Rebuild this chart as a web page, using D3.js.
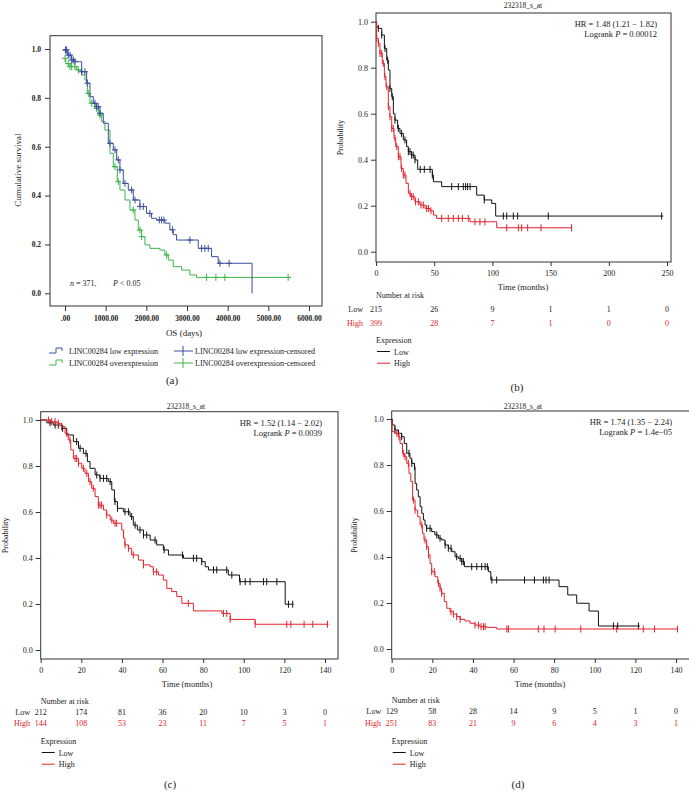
<!DOCTYPE html>
<html><head><meta charset="utf-8">
<script src="https://cdn.jsdelivr.net/npm/d3@7"></script>
<style>
body{margin:0;background:#fff}
svg{display:block}
text{font-family:"Liberation Serif","Times New Roman",serif}
</style>
</head><body><script>
// ---------------- DATA ----------------
// Panel (a): OS in days. Steps are [time, survival after drop]
const aLowSteps = [[0,0.996],[60,0.975],[164,0.955],[245,0.948],[410,0.907],[532,0.86],[614,0.805],[696,0.778],[778,0.764],[860,0.737],[942,0.696],[1065,0.614],[1188,0.587],[1270,0.546],[1351,0.505],[1433,0.45],[1556,0.423],[1679,0.382],[1843,0.355],[2006,0.327],[2129,0.307],[2252,0.30],[2457,0.287],[2580,0.26],[2662,0.24],[2744,0.218],[3276,0.184],[3604,0.15],[3768,0.123],[4600,0.0]];
const aLowEnd = 4600;
const aLowCensor = [10,20,41,82,123,164,205,245,410,491,549,737,778,819,860,1106,1229,1310,1351,1474,1638,1720,1843,1925,2088,2318,2375,2432,2645,3071,3358,3440,3522,3808,4038];
const aHighSteps = [[0,0.962],[20,0.94],[123,0.928],[287,0.914],[410,0.894],[491,0.873],[549,0.818],[614,0.778],[737,0.757],[819,0.73],[901,0.703],[983,0.668],[1106,0.573],[1188,0.518],[1286,0.457],[1351,0.423],[1474,0.382],[1597,0.341],[1720,0.30],[1802,0.259],[1884,0.232],[1966,0.198],[2088,0.184],[2334,0.177],[2457,0.157],[2539,0.136],[2662,0.109],[2867,0.095],[3071,0.075],[3235,0.065]];
const aHighEnd = 5487;
const aHighCensor = [0,82,123,164,245,328,573,655,778,860,1229,1310,1679,1843,1884,2498,3481,3710,3931,5487];
const aYTicks = [0,0.2,0.4,0.6,0.8,1.0];
const aXTicks = [0,1000,2000,3000,4000,5000,6000];
const aXTickLabels = [".00","1000.00","2000.00","3000.00","4000.00","5000.00","6000.00"];
const aLegend = ["LINC00284 low expression","LINC00284 overexpression","LINC00284 low expression-censored","LINC00284 overexpression-censored"];

// Panel (b): months
const bLowSteps = [[0,1.0],[0.5,0.978],[2,0.971],[4.9,0.942],[7.2,0.884],[9.2,0.833],[10.6,0.79],[12,0.71],[13.5,0.674],[14.9,0.60],[16.3,0.572],[18.6,0.536],[20.6,0.514],[23.5,0.486],[26.3,0.457],[27.8,0.435],[30.6,0.42],[33.5,0.399],[35.8,0.358],[48.4,0.333],[49.3,0.304],[56.4,0.283],[86.5,0.246],[93,0.225],[99.4,0.21],[102.8,0.155]];
const bLowEnd = 246.8;
const bLowCensor = [2,4.9,7.7,10,12,14,16.3,19.2,22,24.9,27.8,29.2,30.6,32,33.5,38,41.5,46.4,48.4,65,70.7,75,77,78.7,80.8,93,109.4,112.3,118,121.7,148,245.4];
const bHighSteps = [[0,1.0],[0.5,0.928],[2,0.906],[3.4,0.862],[5.4,0.819],[7.2,0.761],[8.6,0.717],[10.6,0.63],[12,0.587],[13.5,0.536],[15.5,0.493],[16.9,0.457],[19.2,0.413],[21.5,0.362],[23.5,0.333],[25.8,0.297],[27.8,0.254],[29.8,0.239],[33.5,0.217],[37.8,0.203],[42.1,0.188],[46.4,0.178],[49.3,0.159],[52.1,0.145],[80.8,0.13],[103.7,0.104]];
const bHighEnd = 168;
const bHighCensor = [0.6,2,3.4,4.9,6.3,7.7,9.2,10.6,12,13.5,14.9,16.3,17.8,19.2,20.6,22,23.5,24.9,29.2,30.6,32,34,36.4,38.7,40.7,43.5,45,47.2,56.4,62.1,66.4,70.7,74.2,79.3,85,89.3,93.6,112.3,122.3,125.1,130.3,141.8,168];
const bXTicks = [0,50,100,150,200,250];
const bRiskLow = [215,26,9,1,1,0];
const bRiskHigh = [399,28,7,1,0,0];
const bHR = "HR = 1.48 (1.21 \u2212 1.82)";
const bP = "0.00012";

// Panel (c)
const cLowSteps = [[0,1.0],[3,0.988],[6.2,0.978],[10.3,0.964],[12.8,0.935],[16.1,0.906],[18.6,0.877],[21,0.855],[23,0.819],[24.3,0.79],[26.8,0.761],[29.2,0.746],[33.3,0.732],[35,0.696],[36.3,0.645],[37.8,0.616],[40.7,0.601],[44,0.58],[45.6,0.543],[47.6,0.522],[50.6,0.5],[53.9,0.478],[57.1,0.457],[60.4,0.435],[62.9,0.413],[70.3,0.399],[79.3,0.384],[81,0.362],[82.6,0.348],[92.4,0.326],[97.9,0.297],[120.4,0.199]];
const cLowEnd = 124.5;
const cLowCensor = [4.6,7.1,8.7,10.8,17.7,19.4,22.3,27.6,29.2,30.9,32.5,34.2,36.6,37.8,41.5,43.2,44.8,46.5,48.9,50.6,52.2,56.3,60.8,69.8,75.2,76.8,79.3,85.1,86.7,91.6,94.1,98.2,100.7,103.1,109.7,111.3,116.3,122,124.1];
const cHighSteps = [[0,1.0],[4.6,0.993],[7.9,0.986],[10.3,0.971],[12,0.942],[13.6,0.913],[14.8,0.87],[16.1,0.833],[18.6,0.812],[20.2,0.79],[21.8,0.768],[23.5,0.732],[25.1,0.703],[26.8,0.667],[28.4,0.63],[30.9,0.609],[32.5,0.587],[34.2,0.565],[35.8,0.551],[39.9,0.522],[40.8,0.486],[41.5,0.457],[43.2,0.442],[44.8,0.413],[48.1,0.391],[50.6,0.37],[53.9,0.362],[55.5,0.34],[58,0.326],[60.4,0.304],[62.1,0.268],[64.5,0.254],[67,0.232],[69.5,0.203],[75.2,0.17],[89.2,0.159],[93.3,0.133],[105.6,0.112]];
const cHighEnd = 141.7;
const cHighCensor = [3.8,5.4,7.1,8.7,10.3,12.8,14.4,16.9,17.7,18.6,21,22.7,24.3,25.9,28.4,29.2,30,32.5,35,36.6,37.4,41.5,43.2,45.6,50.6,55.5,57.1,72.7,90,91.6,93.3,105.6,121.2,123.2,129.7,134,141.2];
const cdXTicks = [0,20,40,60,80,100,120,140];
const cRiskLow = [212,174,81,36,20,10,3,0];
const cRiskHigh = [144,108,53,23,11,7,5,1];
const cHR = "HR = 1.52 (1.14 \u2212 2.02)";
const cP = "0.0039";

// Panel (d)
const dLowSteps = [[0,1.0],[0.3,0.974],[1.6,0.952],[3.3,0.938],[4.9,0.923],[6.2,0.894],[7.4,0.851],[9,0.829],[9.9,0.807],[11.2,0.793],[11.5,0.72],[12.3,0.691],[13.1,0.662],[14,0.619],[14.8,0.59],[15.6,0.561],[16.4,0.539],[17.2,0.525],[19.7,0.51],[21.3,0.496],[23,0.481],[24.6,0.474],[26.3,0.452],[27.9,0.438],[29.6,0.423],[31.2,0.401],[32.8,0.394],[34.5,0.38],[35.8,0.358],[47.6,0.336],[48.8,0.3],[82.4,0.271],[86.7,0.235],[91.1,0.199],[97.2,0.165],[101.8,0.1]];
const dLowEnd = 122.3;
const dLowCensor = [1.6,3.3,4.9,8.5,9.9,11.2,17.2,18.9,22.2,23.8,26.3,27.9,29.2,32,33.7,34.5,35.3,39.4,41.9,44.3,46,47.1,49.3,51.7,65.4,70.3,74.7,76,77.5,109.2,111.3,121.5];
const dHighSteps = [[0,1.0],[0.2,0.945],[1.6,0.938],[3.3,0.923],[4.1,0.894],[5.3,0.851],[6.2,0.836],[7.4,0.807],[8.5,0.764],[9.4,0.728],[10.3,0.648],[11.5,0.604],[12.8,0.575],[14,0.539],[15.1,0.503],[15.9,0.474],[17.2,0.445],[18.1,0.409],[18.9,0.372],[19.7,0.336],[21.3,0.314],[22.7,0.286],[23.8,0.264],[24.6,0.242],[25.9,0.206],[27.1,0.177],[28.7,0.162],[30.4,0.152],[32,0.141],[33.7,0.129],[36.1,0.122],[38.6,0.112],[41,0.104],[43.5,0.097],[46.8,0.094],[51.7,0.087]];
const dHighEnd = 141;
const dHighCensor = [2.5,3.6,5.7,6.6,8.2,10.7,11.5,14.8,16.4,17.2,18.1,19.7,21,23,23.8,24.6,29.2,30.4,32,33.7,41,42.7,44,45.2,46,56.7,57.5,72.2,75,80.5,93.1,110.8,123.9,129.4,140.7];
const dRiskLow = [129,58,28,14,9,5,1,0];
const dRiskHigh = [251,83,21,9,6,4,3,1];
const dHR = "HR = 1.74 (1.35 \u2212 2.24)";
const dP = "1.4e\u221205";

const probTicks = [0,0.2,0.4,0.6,0.8,1.0];
const gsTitle = "232318_s_at";

// ---------------- DRAW ----------------
const COL_BLUE = "#3d4f9e", COL_GREEN = "#3db54a", COL_BLACK = "#111", COL_RED = "#e3222b", COL_TXT = "#222";
const svg = d3.select("body").append("svg").attr("width",689).attr("height",799);

function survAt(steps, t){ let s = steps[0][1]; for (const [tt,ss] of steps){ if (tt <= t) s = ss; else break; } return s; }

function txt(g, x, y, size, str, anchor, color){
  return g.append("text").attr("x",x).attr("y",y).attr("font-size",size)
    .attr("text-anchor",anchor||"start").attr("fill",color||COL_TXT).text(str);
}

function drawKM(g, x, y, steps, end, censor, color, cross){
  const pts = steps.slice();
  const last = steps[steps.length-1];
  if (end > last[0]) pts.push([end, last[1]]);
  g.append("path")
    .attr("d", d3.line().x(d=>x(d[0])).y(d=>y(d[1])).curve(d3.curveStepAfter)(pts))
    .attr("fill","none").attr("stroke",color).attr("stroke-width",1);
  censor.forEach(t=>{
    const cx = x(t), cy = y(survAt(steps,t));
    g.append("line").attr("x1",cx).attr("x2",cx).attr("y1",cy-3.5).attr("y2",cy+3.5).attr("stroke",color).attr("stroke-width",1);
    if (cross) g.append("line").attr("x1",cx-3).attr("x2",cx+3).attr("y1",cy).attr("y2",cy).attr("stroke",color).attr("stroke-width",1);
  });
}

function styleAxis(sel, size, bold){
  sel.select(".domain").remove();
  sel.selectAll(".tick line").attr("stroke","#333");
  sel.selectAll(".tick text").attr("font-size",size).attr("font-weight",bold?"bold":"normal")
     .attr("font-family",'"Liberation Serif","Times New Roman",serif').attr("fill",COL_TXT);
}

// ---- Panel (a)
(function(){
  const box = {l:50, t:35.7, r:322, b:306};
  const x = d3.scaleLinear().domain([0,6000]).range([65,309]);
  const y = d3.scaleLinear().domain([0,1]).range([293.3,49]);
  const g = svg.append("g");
  g.append("rect").attr("x",box.l).attr("y",box.t).attr("width",box.r-box.l).attr("height",box.b-box.t)
    .attr("fill","none").attr("stroke","#333").attr("stroke-width",1);
  g.append("g").attr("transform",`translate(${box.l},0)`)
    .call(d3.axisLeft(y).tickValues(aYTicks).tickSize(5).tickPadding(4).tickFormat(d3.format(".1f")))
    .call(s=>styleAxis(s,7.5,true));
  g.append("g").attr("transform",`translate(0,${box.b})`)
    .call(d3.axisBottom(x).tickValues(aXTicks).tickSize(5).tickPadding(5).tickFormat((d,i)=>aXTickLabels[i]))
    .call(s=>styleAxis(s,7.5,true));
  g.append("text").attr("transform",`translate(21,170) rotate(-90)`).attr("text-anchor","middle")
    .attr("font-size",9).attr("fill",COL_TXT).text("Cumulative survival");
  txt(g, x(3000)-3, 336, 9, "OS (days)", "middle");
  const nt = txt(g, 70, 286, 8, null);
  nt.append("tspan").attr("font-style","italic").text("n");
  nt.append("tspan").text(" = 371,");
  const pt = txt(g, 113, 286, 8, null);
  pt.append("tspan").attr("font-style","italic").text("P");
  pt.append("tspan").text(" < 0.05");
  drawKM(g, x, y, aHighSteps, aHighEnd, aHighCensor, COL_GREEN, true);
  drawKM(g, x, y, aLowSteps, aLowEnd, aLowCensor, COL_BLUE, true);
  // legend
  const rows = [351, 363], cols = [COL_BLUE, COL_GREEN];
  rows.forEach((ry,i)=>{
    g.append("path").attr("d",`M49,${ry+2}H56V${ry-3}H62V${ry}`).attr("fill","none").attr("stroke",cols[i]).attr("stroke-width",1);
    txt(g, 69, ry+3, 8, aLegend[i]);
    g.append("line").attr("x1",174).attr("x2",193).attr("y1",ry).attr("y2",ry).attr("stroke",cols[i]);
    g.append("line").attr("x1",183).attr("x2",183).attr("y1",ry-5).attr("y2",ry+5).attr("stroke",cols[i]);
    txt(g, 195, ry+3, 8, aLegend[i+2]);
  });
  txt(g, 172, 384, 11, "(a)", "middle");
})();

// ---- Generic R-style KM panel
function rPanel(o){
  const g = svg.append("g");
  const x = d3.scaleLinear().domain([0,o.xmax]).range([o.box.l, o.xr]);
  const y = d3.scaleLinear().domain([0,1]).range([o.y0, o.y1]);
  txt(g, o.titleX, o.titleY, 7.5, gsTitle, "middle");
  g.append("rect").attr("x",o.box.l).attr("y",o.box.t).attr("width",o.box.r-o.box.l).attr("height",o.box.b-o.box.t)
    .attr("fill","none").attr("stroke","#333").attr("stroke-width",1);
  g.append("g").attr("transform",`translate(${o.box.l},0)`)
    .call(d3.axisLeft(y).tickValues(probTicks).tickSize(5).tickPadding(3).tickFormat(d3.format(".1f")))
    .call(s=>styleAxis(s,8,false));
  g.append("g").attr("transform",`translate(0,${o.box.b})`)
    .call(d3.axisBottom(x).tickValues(o.xticks).tickSize(4).tickPadding(4))
    .call(s=>styleAxis(s,8,false));
  g.append("text").attr("transform",`translate(${o.ylabX},${(o.box.t+o.box.b)/2}) rotate(-90)`).attr("text-anchor","middle")
    .attr("font-size",8).attr("fill",COL_TXT).text("Probability");
  txt(g, o.xlabX, o.box.b+28, 8.5, "Time (months)", "middle");
  txt(g, o.hrX, o.box.t+14, 8.5, o.hr, "end");
  const lp = txt(g, o.hrX, o.box.t+24, 8.5, null, "end");
  lp.append("tspan").text("Logrank ");
  lp.append("tspan").attr("font-style","italic").text("P");
  lp.append("tspan").text(" = " + o.p);
  drawKM(g, x, y, o.low, o.lowEnd, o.lowC, COL_BLACK, false);
  drawKM(g, x, y, o.high, o.highEnd, o.highC, COL_RED, false);
  // risk table
  const r0 = o.riskY, gap = o.rowGap;
  txt(g, o.box.l, r0, 8, "Number at risk");
  txt(g, o.rowLabX, r0+gap, 8, "Low", "end");
  txt(g, o.rowLabX, r0+2*gap, 8, "High", "end", COL_RED);
  o.xticks.forEach((t,i)=>{
    txt(g, x(t), r0+gap, 8, o.riskLow[i], "middle");
    txt(g, x(t), r0+2*gap, 8, o.riskHigh[i], "middle", COL_RED);
  });
  const e0 = o.exprY;
  txt(g, o.box.l, e0, 8, "Expression");
  [["Low",COL_BLACK],["High",COL_RED]].forEach(([lab,c],i)=>{
    const yy = e0 + 11.5 + i*11.7;
    g.append("line").attr("x1",o.box.l+1).attr("x2",o.box.l+14).attr("y1",yy-3).attr("y2",yy-3).attr("stroke",c).attr("stroke-width",1);
    txt(g, o.box.l+18, yy, 8, lab);
  });
  txt(g, o.capX, o.capY, 11, o.cap, "middle");
}

rPanel({box:{l:376,t:13,r:671,b:262}, xmax:250, xr:667, y0:251.7, y1:21.7, xticks:bXTicks, titleX:523, titleY:8,
  xlabX:523, ylabX:343, hrX:657, hr:bHR, p:bP, low:bLowSteps, lowEnd:bLowEnd, lowC:bLowCensor, high:bHighSteps, highEnd:bHighEnd, highC:bHighCensor,
  riskY:298, rowGap:14, exprY:343, rowLabX:363, riskLow:bRiskLow, riskHigh:bRiskHigh, capX:517, capY:391, cap:"(b)"});

rPanel({box:{l:40.7,t:411.7,r:338,b:659}, xmax:140, xr:325, y0:650, y1:420, xticks:cdXTicks, titleX:186, titleY:408.5,
  xlabX:187, ylabX:8, hrX:322, hr:cHR, p:cP, low:cLowSteps, lowEnd:cLowEnd, lowC:cLowCensor, high:cHighSteps, highEnd:cHighEnd, highC:cHighCensor,
  riskY:703.5, rowGap:11.2, exprY:744, rowLabX:30, riskLow:cRiskLow, riskHigh:cRiskHigh, capX:170, capY:788, cap:"(c)"});

rPanel({box:{l:391.7,t:411,r:692,b:659}, xmax:140, xr:676, y0:649, y1:419, xticks:cdXTicks, titleX:523, titleY:408.5,
  xlabX:540, ylabX:357, hrX:672, hr:dHR, p:dP, low:dLowSteps, lowEnd:dLowEnd, lowC:dLowCensor, high:dHighSteps, highEnd:dHighEnd, highC:dHighCensor,
  riskY:702.5, rowGap:11.5, exprY:744, rowLabX:381, riskLow:dRiskLow, riskHigh:dRiskHigh, capX:518, capY:788, cap:"(d)"});
</script></body></html>
